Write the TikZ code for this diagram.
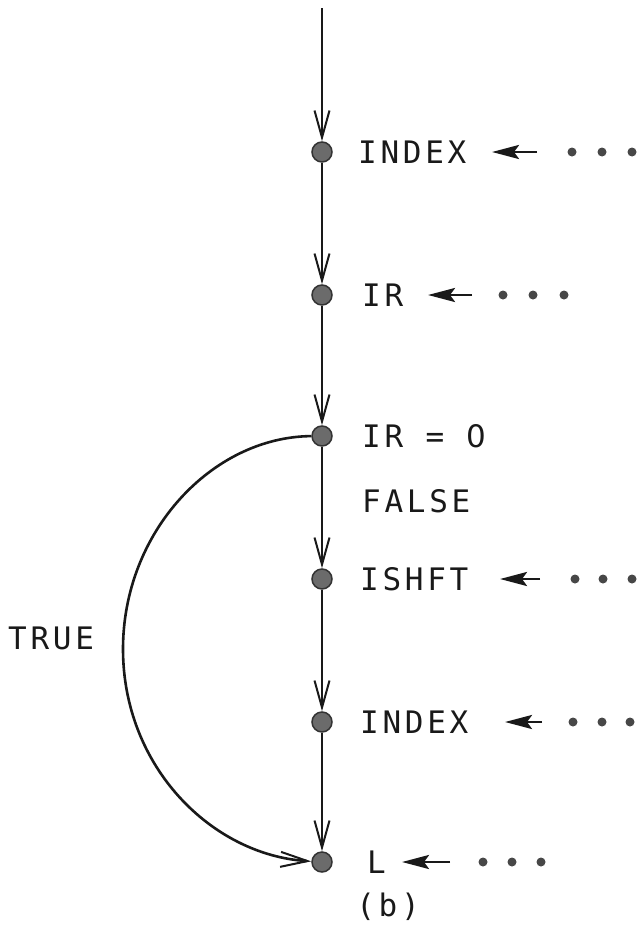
\documentclass[tikz,border=0pt]{standalone}
\usepackage{fontspec}
\usetikzlibrary{arrows.meta}
\newfontfamily\lblfont[LetterSpace=12]{DejaVu Sans Mono}
\newfontfamily\zerofont{DejaVu Sans}
\begin{document}
\begin{tikzpicture}[x=1pt,y=-1pt,
  ink/.style={black!90},
  pnode/.style={circle,fill=black!58,draw=black!80,line width=1.5pt,minimum size=20pt,inner sep=0pt},
  flow/.style={ink,line width=2.6pt,-{Straight Barb[length=27pt,width=15pt,line width=2pt]}},
  larrow/.style={ink,line width=2.8pt,-{Stealth[length=27pt,width=14pt,inset=5pt]}},
  ldot/.style={circle,fill=black!72,minimum size=9pt,inner sep=0pt},
  lbl/.style={ink,inner sep=0pt,anchor=west,font=\lblfont\fontsize{31}{31}\selectfont}
]
\useasboundingbox (0,0) rectangle (639,929);

% main nodes
\coordinate (top) at (322,8);
\node[pnode] (n1) at (322,152) {};
\node[pnode] (n2) at (322,295) {};
\node[pnode] (n3) at (322,436) {};
\node[pnode] (n4) at (322,579) {};
\node[pnode] (n5) at (322,722) {};
\node[pnode] (n6) at (322,862) {};

% main flow
\draw[flow] (top) -- (n1);
\draw[flow] (n1) -- (n2);
\draw[flow] (n2) -- (n3);
\draw[flow] (n3) -- (n4);
\draw[flow] (n4) -- (n5);
\draw[flow] (n5) -- (n6);

% TRUE branch
\draw[flow] (n3) .. controls (212,437) and (123,532) .. (123,649)
                 .. controls (123,767) and (212,855) .. (n6);

% labels
\node[lbl] (l1) at (358,152) {INDEX};
\node[lbl] (l2) at (362,295) {IR};
\node[lbl] (l3) at (362,436) {IR = {\zerofont 0}};
\node[lbl] (lf) at (362,501) {FALSE};
\node[lbl] (l4) at (360,579) {ISHFT};
\node[lbl] (l5) at (360,722) {INDEX};
\node[lbl] (l6) at (367,862) {L};
\node[lbl] (lt) at (8,638) {TRUE};
\node[lbl,anchor=center] (cap) at (388,907) {(b)};

% incoming arrows and dots
\coordinate (t1) at (537,152); \coordinate (h1) at (492,152);
\coordinate (t2) at (472,295); \coordinate (h2) at (428,295);
\coordinate (t4) at (540,579); \coordinate (h4) at (500,579);
\coordinate (t5) at (542,722); \coordinate (h5) at (505,722);
\coordinate (t6) at (450,862); \coordinate (h6) at (402,862);
\draw[larrow] (t1) -- (h1);
\draw[larrow] (t2) -- (h2);
\draw[larrow] (t4) -- (h4);
\draw[larrow] (t5) -- (h5);
\draw[larrow] (t6) -- (h6);

\node[ldot] (d1a) at (572,152) {}; \node[ldot] (d1b) at (602,152) {}; \node[ldot] (d1c) at (632,152) {};
\node[ldot] (d2a) at (503,295) {}; \node[ldot] (d2b) at (533,295) {}; \node[ldot] (d2c) at (564,295) {};
\node[ldot] (d4a) at (575,579) {}; \node[ldot] (d4b) at (603,579) {}; \node[ldot] (d4c) at (632,579) {};
\node[ldot] (d5a) at (573,722) {}; \node[ldot] (d5b) at (602,722) {}; \node[ldot] (d5c) at (630,722) {};
\node[ldot] (d6a) at (483,862) {}; \node[ldot] (d6b) at (512,862) {}; \node[ldot] (d6c) at (541,862) {};
\end{tikzpicture}
\end{document}
